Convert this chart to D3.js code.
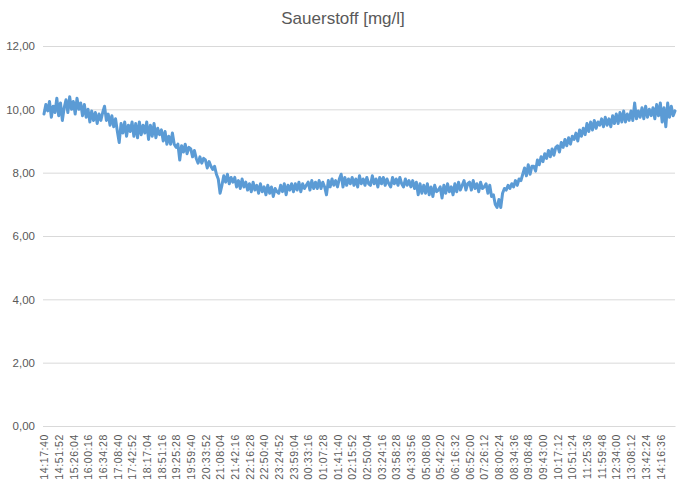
<!DOCTYPE html>
<html>
<head>
<meta charset="utf-8">
<script src="https://cdn.jsdelivr.net/npm/d3@7"></script>
<style>
  html, body { margin: 0; padding: 0; background: #fff; }
  svg { display: block; }
</style>
</head>
<body>
<div id="chart"></div>
<script>
const title = "Sauerstoff [mg/l]";
const timeLabels = ["14:17:40","14:51:52","15:26:04","16:00:16","16:34:28","17:08:40","17:42:52","18:17:04","18:51:16","19:25:28","19:59:40","20:33:52","21:08:04","21:42:16","22:16:28","22:50:40","23:24:52","23:59:04","00:33:16","01:07:28","01:41:40","02:15:52","02:50:04","03:24:16","03:58:28","04:33:56","05:08:08","05:42:20","06:16:32","06:52:00","07:26:12","08:00:24","08:34:36","09:08:48","09:43:00","10:17:12","10:51:24","11:25:36","11:59:48","12:34:00","13:08:12","13:42:24","14:16:36"];
const yTicks = [0, 2, 4, 6, 8, 10, 12];
const pointsPerLabel = 8;
const oxygen = [
  9.85,10.15,9.95,10.25,9.75,10.1,9.9,10.35,
  9.8,10.2,9.65,10.05,10.3,9.9,10.4,10.0,
  10.25,9.85,10.35,10.0,10.2,9.8,10.15,9.75,
  10.0,9.6,9.95,9.65,9.9,9.55,9.85,9.65,
  9.9,10.1,9.65,9.85,9.5,9.8,9.45,9.7,
  9.3,8.95,9.55,9.25,9.6,9.15,9.5,9.3,
  9.6,9.15,9.55,9.1,9.6,9.2,9.5,9.25,
  9.6,9.05,9.5,9.15,9.55,9.1,9.4,9.2,
  9.35,9.0,9.3,8.9,9.15,8.9,9.25,8.9,
  8.8,8.9,8.4,8.85,8.65,8.9,8.6,8.8,
  8.75,8.5,8.7,8.45,8.3,8.5,8.3,8.45,
  8.4,8.15,8.35,8.2,8.1,8.2,7.95,7.8,
  7.35,7.6,7.9,7.7,7.95,7.65,7.85,7.7,
  7.85,7.55,7.75,7.5,7.8,7.55,7.7,7.45,
  7.65,7.4,7.7,7.45,7.6,7.35,7.65,7.4,
  7.55,7.3,7.6,7.35,7.55,7.25,7.5,7.4,
  7.35,7.6,7.4,7.65,7.3,7.6,7.45,7.65,
  7.4,7.65,7.45,7.7,7.4,7.65,7.5,7.6,
  7.7,7.45,7.75,7.5,7.7,7.5,7.75,7.5,
  7.7,7.55,7.3,7.75,7.55,7.8,7.6,7.75,
  7.55,7.8,7.95,7.55,7.85,7.6,7.8,7.65,
  7.85,7.6,7.8,7.55,7.9,7.65,7.8,7.6,
  7.85,7.65,7.6,7.9,7.65,7.8,7.55,7.85,
  7.65,7.85,7.6,7.8,7.65,7.55,7.85,7.65,
  7.8,7.6,7.85,7.65,7.55,7.8,7.6,7.75,
  7.55,7.75,7.5,7.7,7.3,7.65,7.35,7.6,
  7.35,7.65,7.3,7.55,7.25,7.6,7.4,7.45,
  7.55,7.2,7.6,7.35,7.65,7.4,7.55,7.3,
  7.65,7.4,7.7,7.45,7.6,7.75,7.45,7.65,
  7.7,7.45,7.75,7.5,7.65,7.4,7.7,7.5,
  7.55,7.65,7.35,7.6,7.25,7.3,7.0,6.9,
  7.15,6.9,7.35,7.5,7.45,7.6,7.5,7.65,
  7.55,7.75,7.6,7.8,7.75,7.95,8.15,7.9,
  8.25,7.95,8.2,8.2,8.05,8.4,8.25,8.5,
  8.35,8.6,8.45,8.7,8.5,8.75,8.55,8.8,
  8.85,8.65,8.95,8.8,9.05,8.85,9.1,8.9,
  9.15,9.05,9.25,9.0,9.35,9.15,9.4,9.2,
  9.55,9.3,9.6,9.35,9.65,9.4,9.6,9.5,
  9.7,9.45,9.75,9.5,9.7,9.45,9.8,9.55,
  9.85,9.55,9.9,9.6,9.95,9.6,9.85,9.65,
  9.95,9.65,10.2,9.7,9.95,9.75,10.05,9.7,
  10.1,9.75,10.0,9.8,10.05,9.7,10.15,9.8,
  10.2,9.6,10.05,9.45,10.2,9.75,10.1,9.8,
  9.95
];

const W = 684, H = 484;
const m = { left: 43, right: 9, top: 46, bottom: 58 };
const svg = d3.select("#chart").append("svg").attr("width", W).attr("height", H)
  .style("font-family", "'Liberation Sans', Arial, sans-serif");

const x = d3.scaleLinear().domain([0, oxygen.length - 1]).range([m.left + 1, W - m.right]);
const y = d3.scaleLinear().domain([0, 12]).range([H - m.bottom, m.top]);

svg.append("text").attr("x", 343).attr("y", 24).attr("text-anchor", "middle")
  .attr("fill", "#595959").style("font-size", "17px").text(title);

// grid + y axis
const yAxis = d3.axisLeft(y).tickValues(yTicks).tickSize(-(W - m.right - m.left))
  .tickFormat(d => d3.format(".2f")(d).replace(".", ","));
const gy = svg.append("g").attr("transform", `translate(${m.left},0)`).call(yAxis);
gy.select(".domain").remove();
gy.selectAll(".tick line").attr("stroke", "#d9d9d9").attr("stroke-width", 1);
gy.selectAll(".tick text").attr("fill", "#595959").style("font-size", "11.5px").attr("x", -8);

// x axis labels
const tickIdx = timeLabels.map((_, i) => i * pointsPerLabel);
const xAxis = d3.axisBottom(x).tickValues(tickIdx).tickSize(0)
  .tickFormat((d, i) => timeLabels[i]);
const gx = svg.append("g").attr("transform", `translate(0,${H - m.bottom})`).call(xAxis);
gx.select(".domain").attr("stroke", "#d9d9d9");
gx.selectAll(".tick text")
  .attr("fill", "#595959").style("font-size", "10.5px").style("letter-spacing", "0.6px")
  .attr("transform", "rotate(-90)")
  .attr("text-anchor", "end").attr("x", -8).attr("y", 0).attr("dy", "0.35em");

// line
const line = d3.line().x((d, i) => x(i)).y(d => y(d));
svg.append("path").datum(oxygen).attr("d", line)
  .attr("fill", "none").attr("stroke", "#5b9bd5").attr("stroke-width", 3)
  .attr("stroke-linejoin", "round").attr("stroke-linecap", "round");
</script>
</body>
</html>
